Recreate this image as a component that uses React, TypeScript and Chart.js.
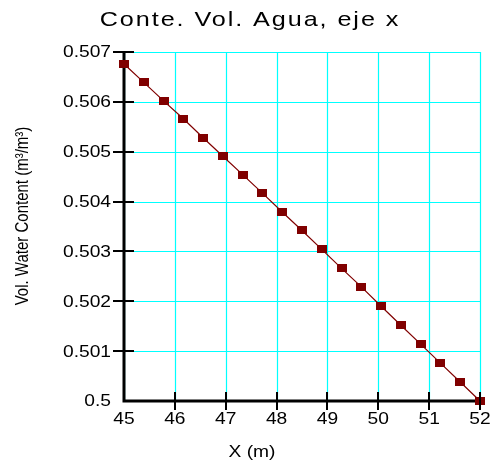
import React, { useEffect, useRef } from 'react';
import { Chart, registerables } from 'chart.js';

Chart.register(...registerables);

const TITLE = 'Conte. Vol. Agua, eje x';
const X_LABEL = 'X (m)';
const Y_LABEL = 'Vol. Water Content (m³/m³)';

const X_VALUES = [45, 45.389, 45.778, 46.167, 46.556, 46.944, 47.333, 47.722, 48.111, 48.5, 48.889, 49.278, 49.667, 50.056, 50.444, 50.833, 51.222, 51.611, 52];
const WATER_CONTENT = [0.50676, 0.50639, 0.50602, 0.50566, 0.50528, 0.50491, 0.50454, 0.50417, 0.50379, 0.50342, 0.50304, 0.50266, 0.50229, 0.5019, 0.50152, 0.50114, 0.50076, 0.50038, 0.5];

const X_TICKS = [45, 46, 47, 48, 49, 50, 51, 52];
const X_TICK_LABELS = ['45', '46', '47', '48', '49', '50', '51', '52'];
const Y_TICKS = [0.5, 0.501, 0.502, 0.503, 0.504, 0.505, 0.506, 0.507];
const Y_TICK_LABELS = ['0.5', '0.501', '0.502', '0.503', '0.504', '0.505', '0.506', '0.507'];

const FONT = '"Liberation Sans", Arial, sans-serif';
const SX = 1.2;
const LINE_COLOR = '#800000';
const GRID_COLOR = '#00ffff';

function stretchedText(
  ctx: CanvasRenderingContext2D,
  text: string,
  x: number,
  y: number,
  size: number,
  align: CanvasTextAlign,
  baseline: CanvasTextBaseline,
  spacing = 0,
  rotate = false
) {
  ctx.save();
  ctx.translate(x, y);
  ctx.scale(SX, 1);
  if (rotate) ctx.rotate(-Math.PI / 2);
  ctx.font = `${size}px ${FONT}`;
  ctx.textAlign = align;
  ctx.textBaseline = baseline;
  ctx.fillStyle = '#000';
  (ctx as any).letterSpacing = `${spacing}px`;
  ctx.fillText(text, 0, 0);
  ctx.restore();
}

const decor = {
  id: 'decor',
  beforeDatasetsDraw(chart: any) {
    const { ctx, chartArea: a, scales } = chart;
    ctx.save();
    // grid
    ctx.strokeStyle = GRID_COLOR;
    ctx.lineWidth = 1.2;
    ctx.beginPath();
    X_TICKS.forEach((v) => {
      const px = Math.round(scales.x.getPixelForValue(v)) + 0.5;
      ctx.moveTo(px, a.top);
      ctx.lineTo(px, a.bottom);
    });
    Y_TICKS.forEach((v) => {
      const py = Math.round(scales.y.getPixelForValue(v)) + 0.5;
      ctx.moveTo(a.left, py);
      ctx.lineTo(a.right + 1, py);
    });
    ctx.stroke();
    // axes
    ctx.strokeStyle = '#000';
    ctx.lineWidth = 3;
    ctx.beginPath();
    ctx.moveTo(a.left, a.top - 1);
    ctx.lineTo(a.left, a.bottom);
    ctx.lineTo(a.right + 1, a.bottom);
    ctx.stroke();
    ctx.restore();
  },
  afterDatasetsDraw(chart: any) {
    const { ctx, chartArea: a, scales } = chart;
    ctx.save();
    ctx.strokeStyle = '#000';
    ctx.lineWidth = 2;
    ctx.beginPath();
    Y_TICKS.forEach((v, i) => {
      if (i === 0) return;
      const py = Math.round(scales.y.getPixelForValue(v));
      ctx.moveTo(a.left - 11, py);
      ctx.lineTo(a.left + 10, py);
    });
    X_TICKS.forEach((v, i) => {
      if (i === 0) return;
      const px = Math.round(scales.x.getPixelForValue(v));
      ctx.moveTo(px, a.bottom - 9);
      ctx.lineTo(px, a.bottom + 9);
    });
    ctx.stroke();
    ctx.restore();
  },
  afterDraw(chart: any) {
    const { ctx, chartArea: a, scales } = chart;
    Y_TICKS.forEach((v, i) => {
      const py = scales.y.getPixelForValue(v);
      stretchedText(ctx, Y_TICK_LABELS[i], a.left - 13, py + 1, 16, 'right', 'middle');
    });
    X_TICKS.forEach((v, i) => {
      const px = scales.x.getPixelForValue(v);
      stretchedText(ctx, X_TICK_LABELS[i], px, a.bottom + 23, 16, 'center', 'alphabetic');
    });
    stretchedText(ctx, TITLE, 250, 26, 21, 'center', 'alphabetic', 1.6);
    stretchedText(ctx, X_LABEL, 252, 457, 16, 'center', 'alphabetic');
    stretchedText(ctx, Y_LABEL, 23, 216, 15, 'center', 'middle', 0, true);
  },
};

export default function App() {
  const ref = useRef<HTMLCanvasElement | null>(null);

  useEffect(() => {
    document.body.style.margin = '0';
    const canvas = ref.current;
    if (!canvas) return;

    const marker = document.createElement('canvas');
    marker.width = 10;
    marker.height = 8;
    const mctx = marker.getContext('2d')!;
    mctx.fillStyle = LINE_COLOR;
    mctx.fillRect(0, 0, 10, 8);

    const chart = new Chart(canvas, {
      type: 'line',
      data: {
        datasets: [
          {
            data: X_VALUES.map((x, i) => ({ x, y: WATER_CONTENT[i] })),
            borderColor: LINE_COLOR,
            backgroundColor: LINE_COLOR,
            borderWidth: 1.2,
            pointStyle: marker as any,
            pointRadius: 5,
            fill: false,
            tension: 0,
            clip: false as any,
          },
        ],
      },
      options: {
        responsive: false,
        animation: false,
        events: [],
        layout: { padding: { left: 124, right: 12, top: 52, bottom: 62 } },
        plugins: {
          legend: { display: false },
          title: { display: false },
          tooltip: { enabled: false },
        },
        scales: {
          x: {
            type: 'linear',
            min: 45,
            max: 52,
            afterBuildTicks: (s: any) => {
              s.ticks = X_TICKS.map((v) => ({ value: v }));
            },
            afterFit: (s: any) => {
              s.height = 0;
            },
            ticks: { display: false },
            grid: { display: false, drawTicks: false },
            border: { display: false },
          },
          y: {
            type: 'linear',
            min: 0.5,
            max: 0.507,
            afterBuildTicks: (s: any) => {
              s.ticks = Y_TICKS.map((v) => ({ value: v }));
            },
            afterFit: (s: any) => {
              s.width = 0;
            },
            ticks: { display: false },
            grid: { display: false, drawTicks: false },
            border: { display: false },
          },
        },
      },
      plugins: [decor],
    });

    return () => chart.destroy();
  }, []);

  return (
    <div style={{ position: 'absolute', left: 0, top: 0, width: 492, height: 463, background: '#fff' }}>
      <canvas ref={ref} width={492} height={463} style={{ display: 'block' }} />
    </div>
  );
}
